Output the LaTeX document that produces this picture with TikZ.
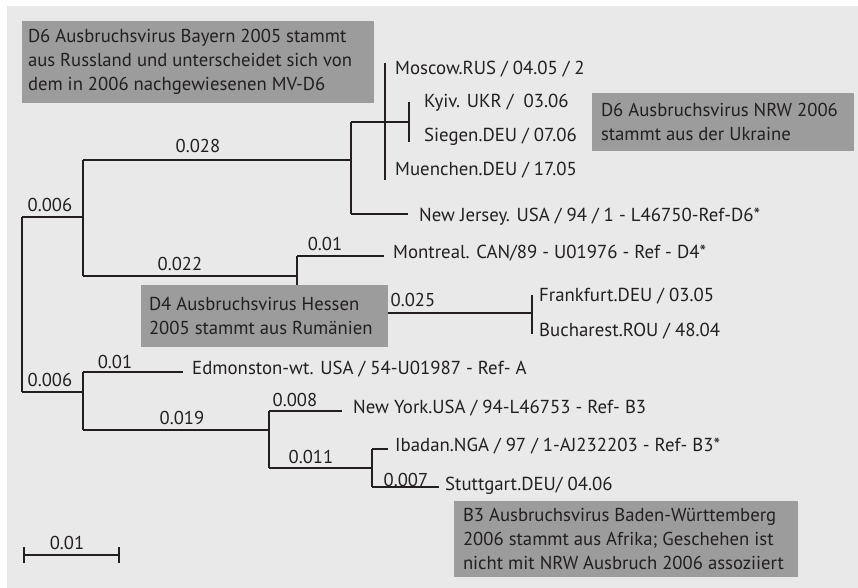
\documentclass[tikz,border=0pt]{standalone}
\usepackage{fontspec}
\setmainfont{PT Sans}
\definecolor{bgcol}{HTML}{E9E9E9}
\definecolor{boxcol}{HTML}{9C9C9C}
\definecolor{ink}{HTML}{231F20}
\begin{document}
\begin{tikzpicture}[x=1pt,y=-1pt,
  br/.style={line width=1.1pt, draw=ink},
  leaf/.style={anchor=mid west, inner sep=0pt, text=ink, font=\fontsize{18.8}{20}\selectfont},
  blab/.style={inner sep=0pt, text=ink, font=\fontsize{18.6}{20}\selectfont},
  notebox/.style={fill=boxcol, inner sep=0pt},
  notetext/.style={anchor=west, inner sep=0pt, text=ink, align=left, font=\fontsize{18.7}{24}\selectfont}
]
\useasboundingbox (0,0) rectangle (858,588);
\fill[bgcol] (7,6) rectangle (858,588);

% internal node coordinates
\coordinate (r1) at (22,217);
\coordinate (r2) at (22,392);
\coordinate (a) at (83,217);
\coordinate (a1) at (83,160);
\coordinate (a2) at (83,276);
\coordinate (d6) at (351,160);
\coordinate (d6a) at (351,122);
\coordinate (d6b) at (351,214);
\coordinate (p) at (385,122);
\coordinate (pt) at (385,63);
\coordinate (pb) at (385,180);
\coordinate (k) at (409,122);
\coordinate (kt) at (409,102);
\coordinate (kb) at (409,142);
\coordinate (nj) at (408,214);
\coordinate (d4) at (297,276);
\coordinate (d4a) at (297,256);
\coordinate (d4b) at (297,313);
\coordinate (mo) at (384,256);
\coordinate (fb) at (532,313);
\coordinate (fbt) at (532,295);
\coordinate (fbb) at (532,334);
\coordinate (b) at (83,392);
\coordinate (b1) at (83,372);
\coordinate (b2) at (83,430);
\coordinate (ed) at (183,372);
\coordinate (c) at (269,430);
\coordinate (c1) at (269,411);
\coordinate (c2) at (269,468);
\coordinate (ny) at (342,411);
\coordinate (e) at (372,468);
\coordinate (e1) at (372,449);
\coordinate (e2) at (372,487);
\coordinate (ib) at (388,449);
\coordinate (st) at (439,487);

% branches
\draw[br] (r1) -- (r2);
\draw[br] (r1) -- (a);
\draw[br] (r2) -- (b);
\draw[br] (a1) -- (a2);
\draw[br] (a1) -- (d6);
\draw[br] (d6a) -- (d6b);
\draw[br] (d6a) -- (p) -- (k);
\draw[br] (pt) -- (pb);
\draw[br] (kt) -- (kb);
\draw[br] (d6b) -- (nj);
\draw[br] (a2) -- (d4);
\draw[br] (d4a) -- (d4b);
\draw[br] (d4a) -- (mo);
\draw[br] (d4b) -- (fb);
\draw[br] (fbt) -- (fbb);
\draw[br] (b1) -- (b2);
\draw[br] (b1) -- (ed);
\draw[br] (b2) -- (c);
\draw[br] (c1) -- (c2);
\draw[br] (c1) -- (ny);
\draw[br] (c2) -- (e);
\draw[br] (e1) -- (e2);
\draw[br] (e1) -- (ib);
\draw[br] (e2) -- (st);

% leaves
\node[leaf] (lmos) at (395,72) {Moscow.RUS / 04.05 / 2};
\node[leaf] (lkyi) at (424,105) {Kyiv. UKR /\ \ 03.06};
\node[leaf] (lsie) at (424,139) {Siegen.DEU / 07.06};
\node[leaf] (lmue) at (395,173) {Muenchen.DEU / 17.05};
\node[leaf] (lnj) at (419,219) {New Jersey. USA / 94 / 1 - L46750-Ref-D6*};
\node[leaf] (lmon) at (393,256) {Montreal. CAN/89 - U01976 - Ref - D4*};
\node[leaf] (lfra) at (539,299) {Frankfurt.DEU / 03.05};
\node[leaf] (lbuc) at (539,334) {Bucharest.ROU / 48.04};
\node[leaf] (ledm) at (192,372) {Edmonston-wt. USA / 54-U01987 - Ref- A};
\node[leaf] (lny) at (353,411) {New York.USA / 94-L46753 - Ref- B3};
\node[leaf] (libd) at (395,449) {Ibadan.NGA / 97 / 1-AJ232203 - Ref- B3*};
\node[leaf] (lstu) at (445,488) {Stuttgart.DEU/ 04.06};

% branch lengths
\node[blab] (l1) at (50,205) {0.006};
\node[blab] (l2) at (198,146) {0.028};
\node[blab] (l3) at (180,264) {0.022};
\node[blab] (l4) at (325,244) {0.01};
\node[blab] (l5) at (413,300) {0.025};
\node[blab] (l6) at (50,380) {0.006};
\node[blab] (l7) at (115,362) {0.01};
\node[blab] (l8) at (182,418) {0.019};
\node[blab] (l9) at (295,400) {0.008};
\node[blab] (l10) at (311,457) {0.011};
\node[blab] (l11) at (406,480) {0.007};

% notes
\node[notebox, minimum width=352pt, minimum height=82pt] (n1) at (198,62) {};
\node[notetext] (t1) at ([xshift=6pt]n1.west)
  {D6 Ausbruchsvirus Bayern 2005 stammt\\aus Russland und unterscheidet sich von\\dem in 2006 nachgewiesenen MV-D6};
\node[notebox, minimum width=262pt, minimum height=58pt] (n2) at (723,122) {};
\node[notetext] (t2) at ([xshift=9pt]n2.west)
  {D6 Ausbruchsvirus NRW 2006\\stammt aus der Ukraine};
\node[notebox, minimum width=247pt, minimum height=62pt] (n3) at (264.5,316) {};
\node[notetext] (t3) at ([xshift=8pt]n3.west)
  {D4 Ausbruchsvirus Hessen\\2005 stammt aus Rumänien};
\node[notebox, minimum width=344pt, minimum height=76pt] (n4) at (626,539) {};
\node[notetext] (t4) at ([xshift=9pt]n4.west)
  {B3 Ausbruchsvirus Baden-Württemberg\\2006 stammt aus Afrika; Geschehen ist\\nicht mit NRW Ausbruch 2006 assoziiert};

% scale bar
\coordinate (s1) at (24,555);
\coordinate (s2) at (119,555);
\draw[br] (s1) -- (s2);
\draw[br] ([yshift=-8pt]s1) -- ([yshift=8pt]s1);
\draw[br] ([yshift=-8pt]s2) -- ([yshift=8pt]s2);
\node[blab] (sl) at (67,543) {0.01};
\end{tikzpicture}
\end{document}
